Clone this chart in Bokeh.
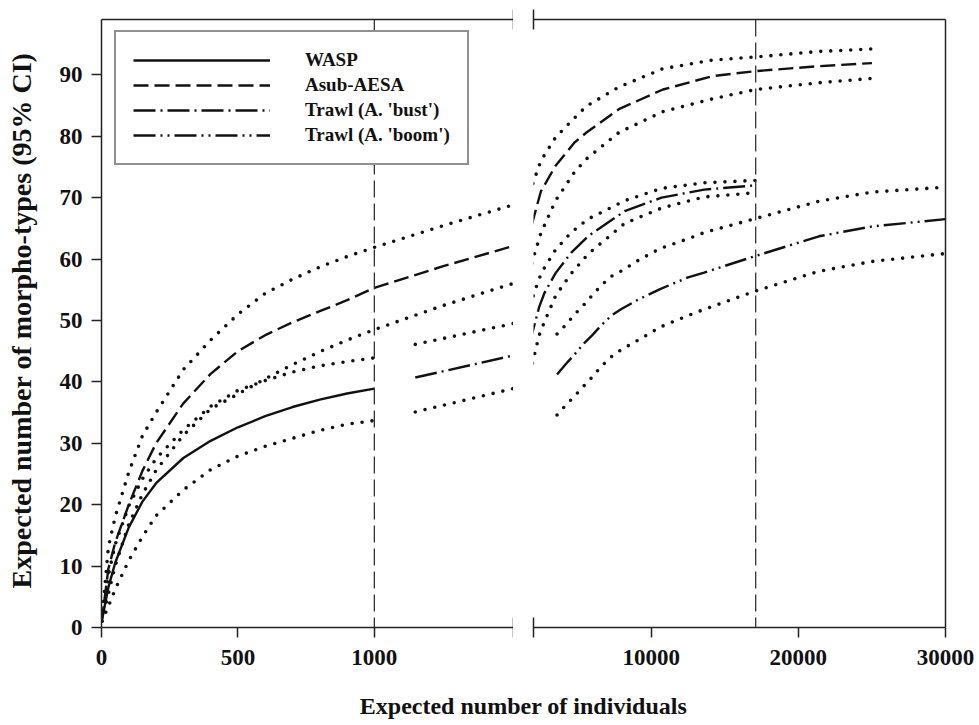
import math
from bokeh.plotting import figure
from bokeh.models import Range1d, LinearAxis, FixedTicker, Span, Legend, LegendItem, Label
from bokeh.layouts import row, column
from bokeh.embed import file_html
from bokeh.resources import INLINE

# ---------------- data ----------------
wasp_x = [1, 25, 50, 100, 150, 200, 300, 400, 500, 600, 700, 800, 900, 1000]
wasp_mean = [1, 6.5, 10.5, 16.3, 20.5, 23.5, 27.6, 30.4, 32.6, 34.4, 35.9, 37.1, 38.1, 38.9]
wasp_lo = [1, 3.4, 6.2, 10.9, 14.8, 18.2, 22.4, 25.7, 27.9, 29.5, 30.8, 32.1, 33.1, 33.7]
wasp_hi = [1, 8.5, 13.5, 19.8, 24.2, 27.5, 32.2, 36.0, 38.6, 40.2, 41.6, 42.6, 43.3, 43.9]

asub_x = [1, 25, 50, 100, 150, 200, 300, 400, 500, 600, 700, 800, 900, 1000, 1250, 1500,
          2000, 2500, 3500, 4800, 5600, 7800, 10800, 14200, 17100, 21400, 25000]
asub_mean = [1, 9.5, 13.8, 20.0, 25.5, 30.0, 36.5, 41.3, 45.0, 47.6, 49.7, 51.5, 53.3, 55.3, 58.8, 62.0,
             66.6, 71.0, 75.2, 79.0, 80.6, 84.4, 87.6, 89.8, 90.6, 91.4, 91.9]
asub_hi = [1, 13.0, 18.0, 25.3, 31.2, 35.0, 42.0, 46.8, 51.0, 54.4, 56.7, 58.7, 60.4, 61.9, 65.4, 68.7,
           72.6, 76.0, 79.8, 83.0, 84.9, 88.0, 91.0, 92.4, 92.9, 93.8, 94.2]
asub_lo = [1, 5.5, 10.0, 16.8, 21.7, 25.6, 31.3, 35.6, 38.0, 40.5, 42.8, 44.9, 46.8, 48.5, 52.4, 55.9,
           60.3, 64.2, 69.5, 74.2, 76.3, 80.6, 84.0, 86.1, 87.6, 88.7, 89.4]

bust_x = [1150, 1500, 2000, 2400, 2750, 3500, 4550, 5700, 8200, 10700, 13600, 17100]
bust_mean = [40.7, 44.2, 48.7, 52.3, 54.5, 57.7, 61.0, 63.7, 67.8, 70.0, 71.3, 72.0]
bust_hi = [46.1, 49.4, 54.2, 56.9, 58.6, 61.5, 64.3, 66.5, 69.5, 71.5, 72.4, 72.8]
bust_lo = [35.1, 38.8, 43.8, 47.7, 49.8, 54.0, 57.6, 60.8, 65.8, 68.3, 70.1, 70.8]

boom_x = [3600, 4200, 4800, 5450, 6000, 6600, 7300, 8000, 9200, 10600, 12500, 13600, 17100, 21400, 25000, 30000]
boom_mean = [41.2, 42.9, 44.5, 46.3, 47.6, 49.2, 50.8, 51.9, 53.5, 55.1, 57.0, 57.8, 60.5, 63.7, 65.3, 66.5]
boom_hi = [47.8, 49.3, 51.0, 52.6, 54.1, 55.7, 57.2, 58.1, 59.9, 61.7, 63.3, 64.3, 66.6, 69.4, 70.9, 71.7]
boom_lo = [34.6, 36.2, 37.7, 39.4, 40.8, 42.5, 44.1, 45.3, 46.9, 48.9, 50.8, 51.8, 54.8, 58.0, 59.6, 60.9]

series_names = ["WASP", "Asub-AESA", "Trawl (A. 'bust')", "Trawl (A. 'boom')"]
left_ticks = [0, 500, 1000]
right_ticks = [10000, 20000, 30000]
y_ticks = [0, 10, 20, 30, 40, 50, 60, 70, 80, 90]
ref_lines_left = [1000]
ref_lines_right = [17100]
left_limits = (0, 1510)
right_limits = (2000, 30000)
y_limits = (0, 99)

x_title = "Expected number of individuals"
y_title = "Expected number of morpho-types (95% CI)"

# ---------------- styling ----------------
FONT = "Liberation Serif"
INK = "#111111"
FRAME = "#222222"
TICK_FS = "23px"

dashes = {
    "WASP": "solid",
    "Asub-AESA": "15 6",
    "Trawl (A. 'bust')": "22 5 2 5",
    "Trawl (A. 'boom')": "22 5 2 5 2 5",
}
DOT = "0 10"

all_series = [
    ("WASP", wasp_x, wasp_mean, wasp_lo, wasp_hi),
    ("Asub-AESA", asub_x, asub_mean, asub_lo, asub_hi),
    ("Trawl (A. 'bust')", bust_x, bust_mean, bust_lo, bust_hi),
    ("Trawl (A. 'boom')", boom_x, boom_mean, boom_lo, boom_hi),
]

y_range = Range1d(*y_limits)
BORDER_TOP = 19
BORDER_BOTTOM = 52
FRAME_H = 608
FIG_H = BORDER_TOP + FRAME_H + BORDER_BOTTOM
YT_W = 42  # width of the strip holding the y title


def style_axis(ax):
    ax.axis_line_color = FRAME
    ax.axis_line_width = 1.5
    ax.major_tick_line_color = FRAME
    ax.major_tick_line_width = 1.5
    ax.minor_tick_line_color = FRAME
    ax.minor_tick_line_width = 1.5
    ax.major_tick_in = 0
    ax.major_tick_out = 10
    ax.major_label_text_font = FONT
    ax.major_label_text_font_style = "bold"
    ax.major_label_text_font_size = TICK_FS
    ax.major_label_text_color = INK


def break_axis(ax, at):
    # axis with only break marks (no labels)
    ax.ticker = FixedTicker(ticks=[], minor_ticks=[at])
    ax.minor_tick_in = 10
    ax.minor_tick_out = 10
    ax.major_tick_out = 0
    ax.major_label_standoff = 0
    ax.major_label_text_font_size = "0px"


def blank_fig(width, height):
    f = figure(width=width, height=height, x_range=Range1d(0, 1), y_range=Range1d(0, 1),
               output_backend="svg", toolbar_location=None,
               x_axis_location=None, y_axis_location=None, min_border=0)
    f.outline_line_color = None
    f.xgrid.visible = False
    f.ygrid.visible = False
    return f


def make_panel(xlim, width, min_left, min_right, ticks, break_at, refs, y_axis):
    p = figure(width=width, height=FIG_H, x_range=Range1d(*xlim), y_range=y_range,
               output_backend="svg", toolbar_location=None,
               x_axis_location="below", y_axis_location=("left" if y_axis else None),
               min_border_left=min_left, min_border_right=min_right,
               min_border_top=BORDER_TOP, min_border_bottom=BORDER_BOTTOM)
    p.xgrid.visible = False
    p.ygrid.visible = False
    p.outline_line_color = None
    p.background_fill_color = "white"
    p.border_fill_color = "white"

    xa = p.xaxis[0]
    style_axis(xa)
    xa.ticker = FixedTicker(ticks=ticks, minor_ticks=[break_at])
    xa.minor_tick_in = 10
    xa.minor_tick_out = 10
    xa.major_label_standoff = 12

    top = LinearAxis()
    style_axis(top)
    break_axis(top, break_at)
    p.add_layout(top, "above")

    if y_axis:
        ya = p.yaxis[0]
        style_axis(ya)
        ya.ticker = FixedTicker(ticks=y_ticks)
        ya.major_label_standoff = 9
    else:
        ra = LinearAxis()
        style_axis(ra)
        ra.ticker = FixedTicker(ticks=[])
        ra.major_tick_out = 0
        ra.major_label_standoff = 0
        ra.major_label_text_font_size = "0px"
        p.add_layout(ra, "right")

    for r in refs:
        p.add_layout(Span(location=r, dimension="height", line_color="#333333",
                          line_width=1.3, line_dash="17 6"))

    main = {}
    for name, xs, m, lo, hi in all_series:
        for ci in (lo, hi):
            p.line(xs, ci, line_color=INK, line_width=3.6, line_dash=DOT, line_cap="round")
        main[name] = p.line(xs, m, line_color=INK, line_width=2.4, line_dash=dashes[name])
    return p, main


left, left_main = make_panel(left_limits, 513 - YT_W, 101 - YT_W, 0, left_ticks, left_limits[1],
                             ref_lines_left, True)
right, _ = make_panel(right_limits, 463, 20, 31, right_ticks, right_limits[0],
                      ref_lines_right, False)

legend = Legend(
    items=[LegendItem(label=n, renderers=[left_main[n]]) for n in series_names],
    location=(13, 462),
    glyph_width=137, glyph_height=20, label_standoff=35, spacing=3, padding=17,
    margin=0,
    label_text_font=FONT, label_text_font_style="bold", label_text_font_size="19px",
    label_text_color=INK,
    border_line_color=FRAME, border_line_width=2,
    background_fill_color="white", background_fill_alpha=1.0,
)
left.add_layout(legend)

# y-axis title in its own strip at the left
yt = blank_fig(YT_W, FIG_H)
yt.add_layout(Label(x=21, y=FIG_H - 372, x_units="screen", y_units="screen",
                    text=y_title, angle=math.pi / 2,
                    text_align="center", text_baseline="middle",
                    text_font=FONT, text_font_style="bold", text_font_size="28px",
                    text_color=INK))

# x-axis title centered under both panels
xt = blank_fig(976, 40)
xt.add_layout(Label(x=523, y=14, x_units="screen", y_units="screen", text=x_title,
                    text_align="center", text_baseline="middle",
                    text_font=FONT, text_font_style="bold", text_font_size="24px",
                    text_color=INK))

layout = column(row(yt, left, right), xt)
open("out.html", "w").write(file_html(layout, INLINE))
